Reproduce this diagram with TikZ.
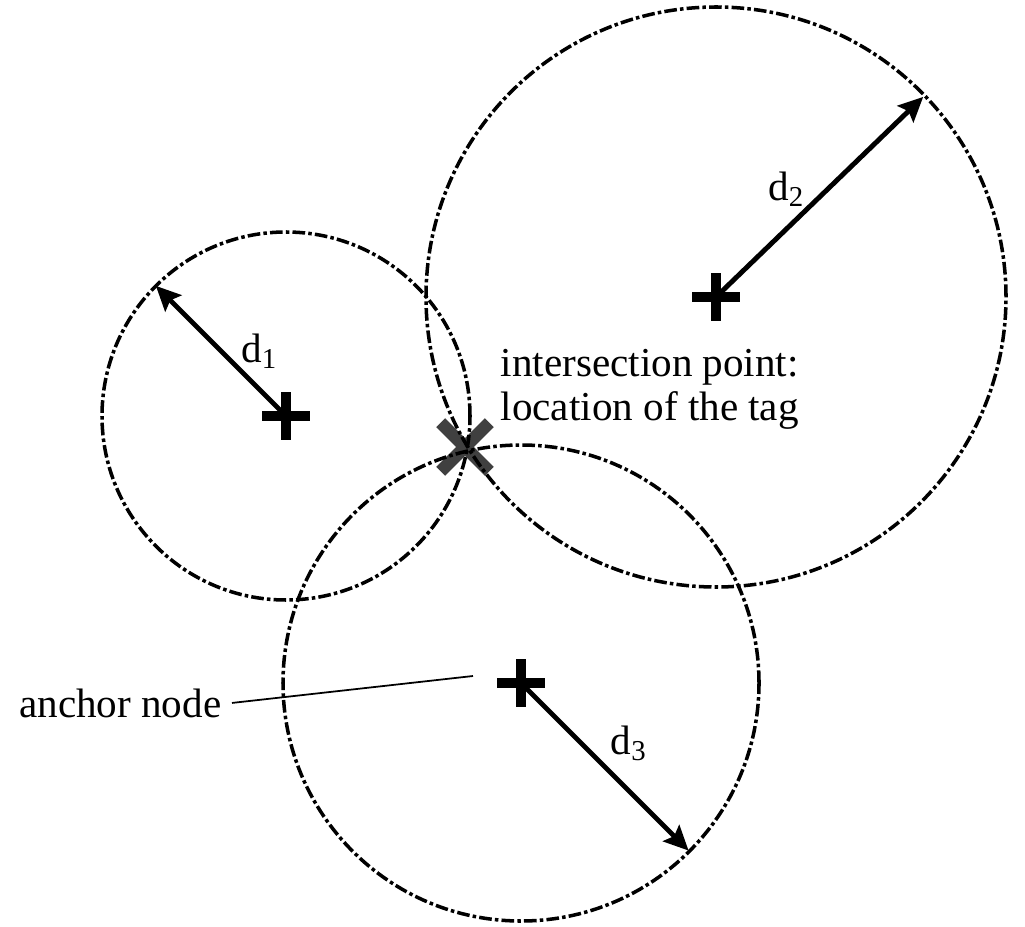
\documentclass[tikz,border=0pt]{standalone}
\usepackage{fontspec}
\setmainfont{Liberation Serif}
\usetikzlibrary{shapes.misc,arrows.meta,positioning}

\begin{document}
\begin{tikzpicture}[
        rangecircle/.style={line width=1pt,dash pattern=on 3.6pt off 0.9pt on 1pt off 0.9pt},
        anchorpt/.style={cross out,draw,rotate=45,line width=2.8pt,minimum size=0.24cm,inner sep=0pt},
        tagpt/.style={cross out,draw=black!75,line width=3.6pt,minimum size=0.36cm,inner sep=0pt},
        dist/.style={line width=1.4pt,-{Stealth[length=7pt,width=6.5pt,inset=1.2pt]}},
        lbl/.style={font=\fontsize{11.7}{12.5}\selectfont,inner sep=0pt}
    ]
        \useasboundingbox (0,0) rectangle (10.25,9.26);

        \coordinate (c1) at (2.86,5.10);
        \coordinate (c2) at (7.16,6.29);
        \coordinate (c3) at (5.21,2.43);

        % tag sits under the range circles
        \node[tagpt] (tag) at (4.65,4.79) {};

        \draw[rangecircle] (c1) circle (1.84);
        \draw[rangecircle] (c2) circle (2.90);
        \draw[rangecircle] (c3) circle (2.38);

        \node[anchorpt] (a1) at (c1) {};
        \node[anchorpt] (a2) at (c2) {};
        \node[anchorpt] (a3) at (c3) {};

        \path (c1) ++(135:1.84) coordinate (e1);
        \path (c2) ++(44:2.88) coordinate (e2);
        \path (c3) ++(-45:2.37) coordinate (e3);

        \draw[dist] (a1.center)--(e1) node[lbl,midway,right=0.18cm] {d\textsubscript{1}};
        \draw[dist] (a2.center)--(e2) node[lbl,midway,left=0.12cm,yshift=0.08cm] {d\textsubscript{2}};
        \draw[dist] (a3.center)--(e3) node[lbl,midway,above right=0.05cm] {d\textsubscript{3}};

        \node[lbl,align=left,anchor=north west] (taglbl) at (5.00,5.77) {intersection point:\\location of the tag};

        \node[lbl,inner xsep=0.1cm,anchor=base east] (anclbl) at (2.32,2.09) {anchor node};
        \coordinate (ptr) at (4.73,2.50);
        \draw[line width=0.5pt] (anclbl.east)--(ptr);

\end{tikzpicture}
\end{document}
